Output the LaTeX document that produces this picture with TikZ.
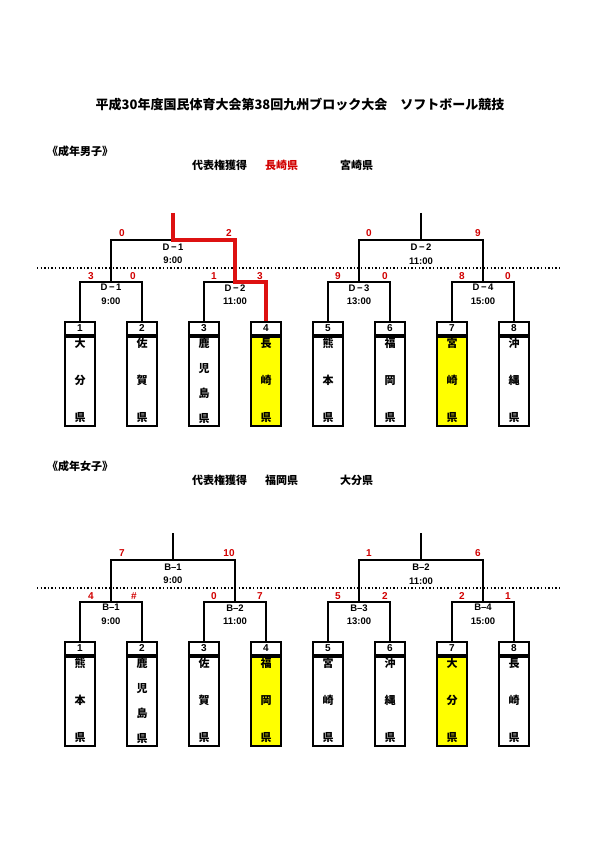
\documentclass[tikz,border=0pt]{standalone}
\usepackage{fontspec}
\setmainfont{Liberation Sans}
\newfontfamily\jp{Noto Sans CJK JP}
\usetikzlibrary{positioning}
\definecolor{scorered}{HTML}{D10000}
\definecolor{winline}{HTML}{DD1111}
\definecolor{hilite}{HTML}{FFFF00}

\begin{document}
\begin{tikzpicture}[x=1pt,y=-1pt,
  line/.style={draw=black,line width=1.5pt},
  win/.style={draw=winline,line width=3.2pt},
  dots/.style={draw=black,line width=1.4pt,dash pattern=on 1.4pt off 2.2pt},
  numbox/.style={draw=black,line width=2pt,minimum width=30pt,minimum height=13pt,
    inner sep=0pt,font=\bfseries\fontsize{10}{11}\selectfont},
  namebox/.style={draw=black,line width=2pt,minimum width=30pt,minimum height=89pt,inner sep=0pt},
  namestack/.style={align=center,inner sep=0pt,anchor=north},
  score/.style={text=scorered,font=\bfseries\fontsize{10}{11}\selectfont,inner sep=0pt},
  match/.style={align=center,inner sep=0pt,font=\bfseries\fontsize{9.5}{13.5}\selectfont},
  head/.style={anchor=west,inner sep=0pt,font=\jp\bfseries\fontsize{11}{12}\selectfont}
]
\useasboundingbox (0,0) rectangle (595,842);
\node[font=\jp\bfseries\fontsize{13}{15}\selectfont] (title) at (300,105)
  {平成30年度国民体育大会第38回九州ブロック大会　ソフトボール競技};
% Men: header line
\node[head] (mhead) at (47,151) {《成年男子》};
\node[head] (mrep) at (192,165) {代表権獲得};
\node[head,text=scorered] (mwin1) at (265,165) {長崎県};
\node[head] (mwin2) at (340,165) {宮崎県};
% Men: team boxes
\foreach \i/\name/\lsk/\fc in {1/大\\分\\県/37/white, 2/佐\\賀\\県/37/white,
    3/鹿\\児\\島\\県/25/white, 4/長\\崎\\県/37/hilite, 5/熊\\本\\県/37/white,
    6/福\\岡\\県/37/white, 7/宮\\崎\\県/37/hilite, 8/沖\\縄\\県/37/white}{
  \node[numbox] (m\i) at ({18+62*\i},328.5) {\i};
  \node[namebox,fill=\fc,anchor=north] (mb\i) at (m\i.south) {};
  \node[namestack,font=\jp\bfseries\fontsize{11}{\lsk pt}\selectfont] (mt\i)
    at ([yshift=-2pt]mb\i.north) {\name};
}
\coordinate (md1) at (111,282);
\coordinate (md2) at (235,282);
\coordinate (md3) at (359,282);
\coordinate (md4) at (483,282);
\coordinate (mf1) at (173,240);
\coordinate (mf2) at (421,240);
\coordinate (mtop1) at (173,213);
\coordinate (mtop2) at (421,213);
\coordinate (mdotl) at (37,268);
\coordinate (mdotr) at (560,268);
\draw[dots] (mdotl) -- (mdotr);
\draw[line] (m1.north) |- (md1) -| (m2.north);
\draw[line] (m3.north) |- (md2) -| (m4.north);
\draw[line] (m5.north) |- (md3) -| (m6.north);
\draw[line] (m7.north) |- (md4) -| (m8.north);
\draw[line] (md1) |- (mf1) -| (md2);
\draw[line] (md3) |- (mf2) -| (md4);
\draw[line] (mtop2) -- (mf2);
\draw[win] (mtop1) -- (mf1) -| (md2) -| (m4.north);
\node[match] (mlf1) at (173,254) {D\,−\,1\\9:00};
\node[match] (mlf2) at (421,254) {D\,−\,2\\11:00};
\node[match] (ml1) at (111,294.5) {D\,−\,1\\9:00};
\node[match] (ml2) at (235,294.5) {D\,−\,2\\11:00};
\node[match] (ml3) at (359,294.5) {D\,−\,3\\13:00};
\node[match] (ml4) at (483,294.5) {D\,−\,4\\15:00};
\node[score] (msf1l) at (122,233) {0};
\node[score] (msf1r) at (229,233) {2};
\node[score] (msf2l) at (369,233) {0};
\node[score] (msf2r) at (478,233) {9};
\node[score] (ms1l) at (91,276) {3};
\node[score] (ms1r) at (133,276) {0};
\node[score] (ms2l) at (214,276) {1};
\node[score] (ms2r) at (260,276) {3};
\node[score] (ms3l) at (338,276) {9};
\node[score] (ms3r) at (385,276) {0};
\node[score] (ms4l) at (462,276) {8};
\node[score] (ms4r) at (508,276) {0};
% Women: header line
\node[head] (whead) at (47,466) {《成年女子》};
\node[head] (wrep) at (192,480) {代表権獲得};
\node[head] (wwin1) at (265,480) {福岡県};
\node[head] (wwin2) at (340,480) {大分県};
% Women: same bracket, 320 lower
\begin{scope}[yshift=-320pt]
\foreach \i/\name/\lsk/\fc in {1/熊\\本\\県/37/white, 2/鹿\\児\\島\\県/25/white,
    3/佐\\賀\\県/37/white, 4/福\\岡\\県/37/hilite, 5/宮\\崎\\県/37/white,
    6/沖\\縄\\県/37/white, 7/大\\分\\県/37/hilite, 8/長\\崎\\県/37/white}{
  \node[numbox] (w\i) at ({18+62*\i},328.5) {\i};
  \node[namebox,fill=\fc,anchor=north] (wb\i) at (w\i.south) {};
  \node[namestack,font=\jp\bfseries\fontsize{11}{\lsk pt}\selectfont] (wt\i)
    at ([yshift=-2pt]wb\i.north) {\name};
}
\coordinate (wd1) at (111,282);
\coordinate (wd2) at (235,282);
\coordinate (wd3) at (359,282);
\coordinate (wd4) at (483,282);
\coordinate (wf1) at (173,240);
\coordinate (wf2) at (421,240);
\coordinate (wtop1) at (173,213);
\coordinate (wtop2) at (421,213);
\coordinate (wdotl) at (37,268);
\coordinate (wdotr) at (560,268);
\draw[dots] (wdotl) -- (wdotr);
\draw[line] (w1.north) |- (wd1) -| (w2.north);
\draw[line] (w3.north) |- (wd2) -| (w4.north);
\draw[line] (w5.north) |- (wd3) -| (w6.north);
\draw[line] (w7.north) |- (wd4) -| (w8.north);
\draw[line] (wd1) |- (wf1) -| (wd2);
\draw[line] (wd3) |- (wf2) -| (wd4);
\draw[line] (wtop1) -- (wf1);
\draw[line] (wtop2) -- (wf2);
\node[match] (wlf1) at (173,254) {B–1\\9:00};
\node[match] (wlf2) at (421,254) {B–2\\11:00};
\node[match] (wl1) at (111,294.5) {B–1\\9:00};
\node[match] (wl2) at (235,294.5) {B–2\\11:00};
\node[match] (wl3) at (359,294.5) {B–3\\13:00};
\node[match] (wl4) at (483,294.5) {B–4\\15:00};
\node[score] (wsf1l) at (122,233) {7};
\node[score] (wsf1r) at (229,233) {10};
\node[score] (wsf2l) at (369,233) {1};
\node[score] (wsf2r) at (478,233) {6};
\node[score] (ws1l) at (91,276) {4};
\node[score] (ws1r) at (134,276) {\#};
\node[score] (ws2l) at (214,276) {0};
\node[score] (ws2r) at (260,276) {7};
\node[score] (ws3l) at (338,276) {5};
\node[score] (ws3r) at (385,276) {2};
\node[score] (ws4l) at (462,276) {2};
\node[score] (ws4r) at (508,276) {1};
\end{scope}
\end{tikzpicture}
\end{document}
